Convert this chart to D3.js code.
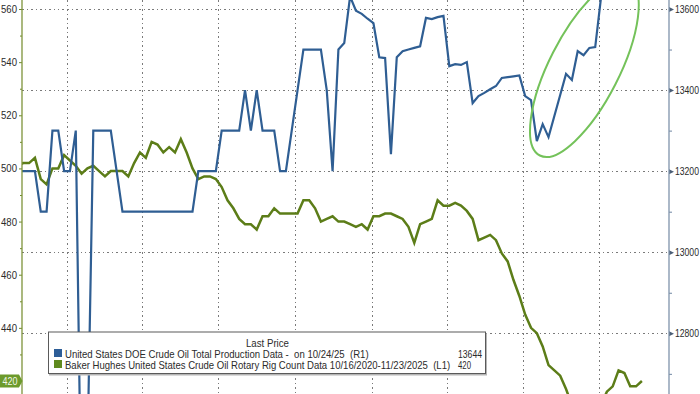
<!DOCTYPE html>
<html>
<head>
<meta charset="utf-8">
<script src="https://cdn.jsdelivr.net/npm/d3@7"></script>
<style>
body { margin: 0; background: #fff; }
svg { display: block; font-family: "Liberation Sans Narrow", "Liberation Sans", Arial, sans-serif; }
.axis text { fill: #2b2b2b; font-size: 11px; }
</style>
</head>
<body>
<script>
// weekly readings, first one on Fri 3 Nov 2023
var startDate = new Date(2023, 10, 3);

// US DOE crude oil production, kb/d (right axis)
var production = [13200,13200,13200,13200,13100,13100,13300,13300,13200,13200,
	13300,12300,12500,13300,13300,13300,13300,13200,
	13100,13100,13100,13100,13100,13100,13100,13100,13100,13100,13100,13100,13100,
	13200,13200,13200,13200,13300,13300,13300,13300,
	13400,13300,13400,13300,13300,13300,13200,13200,13300,13400,
	13500,13500,13500,13500,13400,13200,13500,13516,13631,
	13596,13588,13576,13565,13481,13479,13242,13481,13496,13500,13504,13508,
	13578,13575,13580,13583,13459,13464,13462,13469,
	13368,13385,13393,13402,13410,13430,13432,13434,13436,
	13385,13375,13274,13316,13284,13336,13388,13440,13425,
	13496,13486,13504,13506,13629,13636,13644];

// Baker Hughes US oil rig count (left axis)
var rigCount = [501,502,502,504,496,494,500,500,505,503,
	501,498,500,501,499,497,499,499,499,497,
	502,506,504,510,509,506,508,506,511,506,
	500,496,497,497,496,493,488,485,481,479,
	479,477,482,482,485,483,483,483,483,488,
	488,485,480,481,482,480,480,479,478,479,
	477,482,482,483,483,482,481,478,472,479,
	480,481,488,486,486,487,486,484,481,473,
	474,475,473,468,465,458,452,445,440,438,
	433,426,424,422,417,411,410,411,412,411,
	411,416,418,424,423,418,418,420];

var leftTicks = [440, 460, 480, 500, 520, 540, 560];
var leftMinor = [430, 450, 470, 490, 510, 530, 550];
var rightTicks = [12800, 13000, 13200, 13400, 13600];
var rightMinor = [12700, 12900, 13100, 13300, 13500];

var lastRigs = 420;
var legendTitle = "Last Price";
var legendNames = ["United States DOE Crude Oil Total Production Data -  on 10/24/25  (R1)",
	"Baker Hughes United States Crude Oil Rotary Rig Count Data 10/16/2020-11/23/2025  (L1)"];
var legendValues = ["13644", "420"];
var legendColors = ["#2d5d97", "#5f8a1e"];

var width = 700,
	height = 394,
	plotLeft = 22,
	plotRight = 669;

function weekly(values) {
	return values.map(function(v, i) {
		return {date: d3.timeDay.offset(startDate, 7 * i), value: v};
	});
}

// squeeze a text horizontally so it spans w pixels (the source font is a narrow one)
function squeeze(text, w) {
	text.each(function() {
		var s = w / this.getComputedTextLength();
		var x0 = +d3.select(this).attr("x") || 0;
		d3.select(this).attr("transform", "scale(" + s + ",1)").attr("x", x0 / s);
	});
}

var x = d3.scaleTime()
	.domain([new Date(2023, 10, 8, 12), new Date(2025, 11, 23, 12)])
	.range([plotLeft, plotRight]);
var yL = d3.scaleLinear().domain([420, 560]).range([381, 9]);
var yR = d3.scaleLinear().domain([12800, 13600]).range([333.3, 9]);

var svg = d3.select("body")
	.append("svg")
	.attr("width", width)
	.attr("height", height);

svg.append("defs").append("clipPath")
	.attr("id", "plot")
	.append("rect")
	.attr("x", plotLeft)
	.attr("y", 0)
	.attr("width", plotRight - plotLeft)
	.attr("height", height);

// grid
var grid = svg.append("g")
	.attr("stroke", "#7a7a7a")
	.attr("stroke-width", 1)
	.attr("stroke-dasharray", "1.5,3")
	.attr("shape-rendering", "crispEdges");
grid.selectAll("line.h")
	.data(rightTicks)
	.enter().append("line")
	.attr("class", "h")
	.attr("x1", plotLeft)
	.attr("x2", plotRight)
	.attr("y1", function(d) { return Math.round(yR(d)) + 0.5; })
	.attr("y2", function(d) { return Math.round(yR(d)) + 0.5; });
grid.selectAll("line.v")
	.data(x.ticks(d3.timeMonth.every(3)))
	.enter().append("line")
	.attr("class", "v")
	.attr("x1", function(d) { return Math.round(x(d)) + 0.5; })
	.attr("x2", function(d) { return Math.round(x(d)) + 0.5; })
	.attr("y1", 0)
	.attr("y2", height);

// series
var plot = svg.append("g").attr("clip-path", "url(#plot)");

plot.append("path")
	.datum(weekly(rigCount))
	.attr("fill", "none")
	.attr("stroke", "#5c7d18")
	.attr("stroke-width", 2.5)
	.attr("d", d3.line()
		.x(function(d) { return x(d.date); })
		.y(function(d) { return yL(d.value); }));

plot.append("path")
	.datum(weekly(production))
	.attr("fill", "none")
	.attr("stroke", "#2f5e93")
	.attr("stroke-width", 2.2)
	.attr("d", d3.line()
		.x(function(d) { return x(d.date); })
		.y(function(d) { return yR(d.value); }));

// highlight ring around the recent rebound
plot.append("ellipse")
	.attr("transform", "translate(" + x(new Date(2025, 8, 13)) + "," + yR(13454) + ") rotate(-63)")
	.attr("rx", 98)
	.attr("ry", 35)
	.attr("fill", "none")
	.attr("stroke", "#74c25a")
	.attr("stroke-width", 2);

// legend
var legend = svg.append("g");
legend.append("rect")
	.attr("x", 49).attr("y", 333.5)
	.attr("width", 438).attr("height", 42)
	.attr("fill", "#b5b5b5");
legend.append("rect")
	.attr("x", 48.5).attr("y", 332)
	.attr("width", 437).attr("height", 41.5)
	.attr("fill", "#fff")
	.attr("stroke", "#5a5a5a");
legend.append("g")
	.attr("transform", "translate(246,347)")
	.append("text")
	.attr("font-size", "10px")
	.attr("fill", "#2b2b2b")
	.text(legendTitle)
	.call(squeeze, 43);

var rows = legend.selectAll("g.row")
	.data(legendNames)
	.enter().append("g")
	.attr("class", "row")
	.attr("transform", function(d, i) { return "translate(0," + (i * 11) + ")"; });
rows.append("rect")
	.attr("x", 54).attr("y", 349)
	.attr("width", 8).attr("height", 8)
	.attr("fill", function(d, i) { return legendColors[i]; });
rows.append("g")
	.attr("transform", "translate(65,358)")
	.append("text")
	.attr("font-size", "10px")
	.attr("fill", "#2b2b2b")
	.style("white-space", "pre")
	.text(function(d) { return d; })
	.each(function(d, i) { d3.select(this).call(squeeze, i == 0 ? 304 : 386); });
rows.append("g")
	.attr("transform", "translate(458,358)")
	.append("text")
	.attr("font-size", "10px")
	.attr("fill", "#2b2b2b")
	.text(function(d, i) { return legendValues[i]; })
	.each(function(d, i) { d3.select(this).call(squeeze, i == 0 ? 24 : 13); });

// left axis
var gl = svg.append("g")
	.attr("class", "axis")
	.attr("transform", "translate(" + plotLeft + ",0)")
	.call(d3.axisLeft(yL).tickValues(leftTicks).tickSize(3).tickPadding(2).tickFormat(d3.format("d")));
gl.selectAll(".tick text").call(squeeze, 16);
gl.append("g")
	.call(d3.axisLeft(yL).tickValues(leftMinor).tickSize(2).tickFormat(""));
gl.selectAll(".domain").remove();
gl.selectAll(".tick line").attr("stroke", "#6f8a2a");
gl.append("line")
	.attr("y1", 0).attr("y2", height)
	.attr("stroke", "#7d933a")
	.attr("stroke-width", 1.3);

// last value tag on the left axis
var tagY = yL(lastRigs);
svg.append("path")
	.attr("d", "M0," + (tagY - 6.5) + "H19L22.5," + tagY + "L19," + (tagY + 6.5) + "H0Z")
	.attr("fill", "#6c9a2c");
svg.append("text")
	.attr("x", 2.5).attr("y", tagY)
	.attr("dy", "0.35em")
	.attr("font-size", "11px")
	.attr("fill", "#f2f7e8")
	.text(lastRigs)
	.call(squeeze, 15);

// right axis
var gr = svg.append("g")
	.attr("class", "axis")
	.attr("transform", "translate(" + plotRight + ",0)")
	.call(d3.axisRight(yR).tickValues(rightTicks).tickSize(5).tickPadding(1).tickFormat(d3.format("d")));
gr.selectAll(".tick text").call(squeeze, 24);
gr.selectAll(".tick line").remove();
gr.selectAll(".tick").append("path")
	.attr("d", "M0,-2.5L5,0L0,2.5Z")
	.attr("fill", "#4a5d75");
gr.append("g")
	.call(d3.axisRight(yR).tickValues(rightMinor).tickSize(3).tickFormat(""))
	.selectAll(".tick line").attr("stroke", "#6f86a3");
gr.selectAll(".domain").remove();
gr.append("line")
	.attr("y1", 0).attr("y2", height)
	.attr("stroke", "#7f93ab")
	.attr("stroke-width", 1.3);
</script>
</body>
</html>
